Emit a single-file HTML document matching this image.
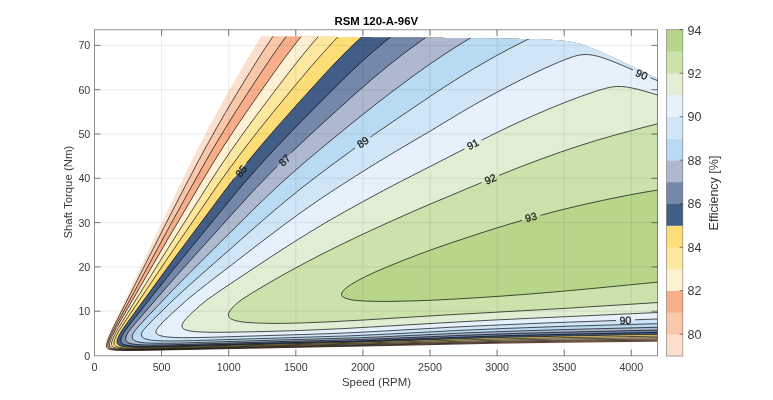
<!DOCTYPE html>
<html><head><meta charset="utf-8"><title>RSM 120-A-96V</title>
<style>
html,body{margin:0;padding:0;background:#fff;}
body{width:773px;height:400px;overflow:hidden;}
svg{display:block;font-family:"Liberation Sans",Arial,sans-serif;}
.tk{font-size:10.7px;fill:#3a3a3a;}
.cb{font-size:12.5px;fill:#3a3a3a;}
.lb{font-size:11.4px;fill:#3a3a3a;}
.cl{font-size:10.5px;fill:#1e1e1e;stroke:#1e1e1e;stroke-width:0.3px;}
.ti{font-size:11.4px;font-weight:bold;fill:#000;}
</style></head><body>
<svg width="773" height="400" viewBox="0 0 773 400">
<rect width="773" height="400" fill="#fff"/>
<defs><clipPath id="cp"><polygon points="94.5,355.8 94.5,34.8 97.5,34.8 100.5,34.9 103.5,34.9 106.5,34.9 109.5,34.9 112.5,35.0 115.5,35.0 118.5,35.0 121.5,35.0 124.5,35.1 127.5,35.1 130.5,35.1 133.5,35.1 136.5,35.2 139.5,35.2 142.5,35.2 145.5,35.2 148.5,35.2 151.5,35.3 154.5,35.3 157.5,35.3 160.5,35.3 163.5,35.4 166.5,35.4 169.5,35.4 172.5,35.4 175.5,35.5 178.5,35.5 181.5,35.5 184.5,35.5 187.5,35.6 190.5,35.6 193.5,35.6 196.5,35.6 199.5,35.7 202.5,35.7 205.5,35.7 208.5,35.7 211.5,35.8 214.5,35.8 217.5,35.8 220.5,35.9 223.5,35.9 226.5,35.9 229.5,35.9 232.5,36.0 235.5,36.0 238.5,36.0 241.5,36.0 244.5,36.1 247.5,36.1 250.5,36.1 253.5,36.1 256.5,36.2 259.5,36.2 262.5,36.2 265.5,36.2 268.5,36.3 271.5,36.3 274.5,36.3 277.5,36.3 280.5,36.4 283.5,36.4 286.5,36.4 289.5,36.4 292.5,36.5 295.5,36.5 298.5,36.5 301.5,36.5 304.5,36.6 307.5,36.6 310.5,36.6 313.5,36.6 316.5,36.7 319.5,36.7 322.5,36.7 325.5,36.7 328.5,36.8 331.5,36.8 334.5,36.8 337.5,36.9 340.5,36.9 343.5,36.9 346.5,36.9 349.5,37.0 352.5,37.0 355.5,37.0 358.5,37.0 361.5,37.1 364.5,37.1 367.5,37.1 370.5,37.1 373.5,37.2 376.5,37.2 379.5,37.2 382.5,37.3 385.5,37.3 388.5,37.3 391.5,37.3 394.5,37.4 397.5,37.4 400.5,37.4 403.5,37.5 406.5,37.5 409.5,37.5 412.5,37.5 415.5,37.6 418.5,37.6 421.5,37.6 424.5,37.7 427.5,37.7 430.5,37.7 433.5,37.7 436.5,37.8 439.5,37.8 442.5,37.8 445.5,37.9 448.5,37.9 451.5,37.9 454.5,38.0 457.5,38.0 460.5,38.0 463.5,38.1 466.5,38.1 469.5,38.1 472.5,38.2 475.5,38.2 478.5,38.2 481.5,38.3 484.5,38.3 487.5,38.4 490.5,38.4 493.5,38.4 496.5,38.5 499.5,38.5 502.5,38.6 505.5,38.6 508.5,38.7 511.5,38.7 514.5,38.8 517.5,38.8 520.5,38.9 523.5,38.9 526.5,39.0 529.5,39.1 532.5,39.2 535.5,39.3 538.5,39.3 541.5,39.4 544.5,39.6 547.5,39.7 550.5,39.8 553.5,40.0 556.5,40.2 559.5,40.5 562.5,40.7 565.5,41.1 568.5,41.5 571.5,42.0 574.5,42.6 577.5,43.3 580.5,44.2 583.5,45.1 586.5,46.2 589.5,47.3 592.5,48.5 595.5,49.7 598.5,51.0 601.5,52.3 604.5,53.6 607.5,55.0 610.5,56.4 613.5,57.8 616.5,59.1 619.5,60.6 622.5,62.0 625.5,63.4 628.5,64.8 631.5,66.2 634.5,67.7 637.5,69.1 640.5,70.5 643.5,72.0 646.5,73.4 649.5,74.9 652.5,76.3 655.5,77.8 657.5,78.7 657.5,355.8"/></clipPath></defs>
<g clip-path="url(#cp)">
<path d="M265.3,30.0 660.0,30.0 660.0,342.0 571.5,342.9 503.0,343.8 394.0,346.0 138.5,350.8 123.5,350.8 114.5,350.6 112.0,350.4 109.1,350.0 107.5,349.5 106.6,349.0 105.7,348.0 105.4,347.0 105.3,345.5 105.6,344.0 106.3,341.5 107.5,338.1 109.5,333.1 111.5,328.6 163.0,220.0 177.0,190.9 192.0,160.4 200.5,143.6 209.0,127.3 218.0,110.6 227.0,94.3 238.5,74.2 249.0,56.2 257.5,42.3 265.3,30.0Z" fill="#fcdfcd" fill-rule="evenodd"/>
<path d="M277.4,30.0 660.0,30.0 660.0,341.1 561.0,342.2 500.5,343.1 388.7,345.5 139.5,350.4 125.0,350.5 116.0,350.2 113.1,350.0 110.5,349.6 108.6,349.0 107.8,348.5 106.9,347.5 106.5,346.5 106.5,345.0 106.9,343.0 107.7,340.5 109.0,337.0 111.0,332.4 113.0,328.2 166.0,223.4 182.0,192.3 198.5,160.8 207.5,144.2 216.5,128.1 225.5,112.5 235.5,95.7 249.5,72.8 260.0,56.0 268.5,43.0 277.4,30.0Z" fill="#f9c8ab" fill-rule="evenodd"/>
<path d="M290.6,30.5 291.0,30.0 660.0,30.0 660.0,340.1 562.0,341.2 502.5,342.2 381.2,345.0 265.5,347.3 166.5,349.5 141.0,350.0 125.5,350.0 117.0,349.7 114.4,349.5 111.6,349.0 110.1,348.5 109.0,347.8 108.3,347.0 107.9,346.0 107.9,344.5 108.3,342.5 109.1,340.0 110.5,336.5 112.5,332.2 114.5,328.2 169.0,227.4 189.0,191.1 206.0,160.8 215.0,145.3 224.5,129.6 234.5,113.5 245.0,97.1 261.0,72.7 271.0,57.8 281.0,43.6 290.6,30.5Z" fill="#f7ae89" fill-rule="evenodd"/>
<path d="M306.0,30.5 306.4,30.0 660.0,30.0 660.0,338.9 560.0,340.2 503.5,341.2 371.2,344.5 262.0,346.8 167.4,349.0 144.0,349.4 128.0,349.5 119.0,349.2 116.5,349.0 113.6,348.5 112.0,348.0 111.1,347.5 110.5,347.0 109.8,346.0 109.5,345.0 109.6,343.5 110.1,341.5 111.0,338.9 112.5,335.4 116.5,327.7 169.5,236.3 199.0,186.3 213.0,163.1 223.0,147.2 233.5,131.1 244.5,114.8 256.5,97.5 274.0,72.6 285.0,57.5 295.5,43.6 306.0,30.5Z" fill="#fdf0d3" fill-rule="evenodd"/>
<path d="M323.7,30.5 324.1,30.0 656.0,30.0 660.0,32.2 660.0,337.6 554.5,339.1 503.5,340.1 372.5,343.7 256.5,346.2 166.5,348.5 148.5,348.8 132.0,348.9 122.0,348.7 119.0,348.4 116.4,348.0 114.5,347.5 113.4,347.0 112.7,346.5 111.9,345.5 111.6,344.5 111.6,343.0 112.0,341.0 113.0,338.3 114.5,335.0 116.0,332.0 118.5,327.7 168.5,247.5 209.0,183.7 220.0,166.8 232.5,148.5 246.0,129.5 259.0,111.9 278.0,86.7 292.0,68.5 303.5,54.0 313.0,42.6 323.7,30.5Z" fill="#fde89f" fill-rule="evenodd"/>
<path d="M344.3,30.5 344.8,30.0 646.7,30.0 660.0,37.5 660.0,336.1 556.0,337.8 506.5,338.8 471.0,339.7 364.5,343.0 263.0,345.3 154.0,348.1 136.5,348.2 125.5,348.0 121.0,347.6 118.5,347.1 116.5,346.5 115.6,346.0 115.0,345.5 114.2,344.5 114.0,343.0 114.1,341.5 114.7,339.5 115.7,337.0 117.1,334.0 119.0,330.7 121.5,326.8 168.5,256.9 216.5,186.8 228.0,170.6 242.5,151.1 257.0,132.4 273.0,112.4 294.5,86.3 310.0,67.8 322.0,54.0 333.0,42.0 344.3,30.5Z" fill="#fcdd78" fill-rule="evenodd"/>
<path d="M368.8,30.5 369.4,30.0 636.7,30.0 648.5,36.7 660.0,43.1 660.0,334.3 554.5,336.3 508.5,337.3 472.0,338.3 363.5,342.0 266.0,344.3 158.0,347.2 139.5,347.4 133.0,347.3 128.0,347.0 123.5,346.6 121.0,346.0 119.5,345.5 118.0,344.5 117.3,343.5 117.0,342.0 117.1,340.5 117.7,338.5 118.5,336.5 120.0,333.5 122.0,330.3 124.5,326.6 171.5,262.1 224.5,191.0 231.5,181.8 237.5,174.2 254.5,153.3 272.0,132.7 293.0,109.0 320.0,79.2 334.0,64.1 346.0,51.8 357.0,41.2 368.8,30.5Z" fill="#425d86" fill-rule="evenodd"/>
<path d="M398.8,30.5 399.5,30.0 625.8,30.0 644.0,40.4 660.0,49.1 660.0,332.3 559.0,334.4 508.0,335.6 469.5,336.9 364.0,340.8 264.5,343.3 165.0,346.1 145.5,346.4 138.5,346.3 133.0,346.0 128.5,345.6 125.5,345.0 123.9,344.5 122.1,343.5 121.3,342.5 120.8,341.0 121.0,339.0 121.6,337.0 122.7,334.5 124.2,332.0 126.0,329.4 129.0,325.4 168.5,275.5 179.0,262.5 234.0,195.1 243.0,184.4 253.0,172.9 271.0,153.0 290.0,132.9 315.0,107.4 345.5,77.0 359.0,64.2 371.4,53.0 384.5,41.9 398.8,30.5Z" fill="#7488ab" fill-rule="evenodd"/>
<path d="M435.9,30.5 436.7,30.0 613.6,30.0 639.5,44.7 650.5,50.7 660.0,55.7 660.0,330.0 574.5,331.9 516.0,333.4 465.0,335.2 386.2,338.5 361.5,339.4 270.0,341.8 169.5,344.8 149.5,345.0 143.0,344.9 137.5,344.6 133.5,344.1 130.4,343.5 128.0,342.5 126.7,341.5 126.3,341.0 125.9,340.0 125.7,338.5 126.1,336.5 127.0,334.5 128.4,332.0 130.2,329.5 137.5,320.7 163.5,290.7 178.5,273.6 237.0,208.6 254.5,189.6 274.0,169.5 282.5,161.0 292.0,151.9 314.5,130.8 347.0,101.2 359.0,90.5 369.0,81.8 385.5,68.0 402.6,54.5 419.5,41.9 427.5,36.3 435.9,30.5Z" fill="#aeb8ce" fill-rule="evenodd"/>
<path d="M483.4,30.5 484.2,30.0 598.6,30.0 636.5,50.8 648.5,57.2 660.0,63.0 660.0,327.2 578.5,329.2 520.0,330.9 467.0,332.8 377.8,337.0 360.5,337.7 267.5,340.3 180.5,343.0 159.5,343.3 152.0,343.2 146.0,342.9 141.5,342.5 137.5,341.7 135.0,340.8 134.0,340.2 133.2,339.5 132.8,339.0 132.4,338.0 132.2,337.0 132.3,336.0 132.6,335.0 133.2,333.5 134.1,332.0 135.1,330.5 138.0,327.0 142.0,322.6 163.5,299.7 177.0,285.7 188.5,274.0 251.5,211.3 262.0,201.1 272.5,191.1 283.0,181.4 291.0,174.2 302.5,164.2 316.0,152.8 331.5,139.9 348.0,126.4 363.0,114.4 376.5,103.7 389.0,94.1 402.0,84.3 413.0,76.1 423.5,68.6 433.5,61.6 443.0,55.2 453.0,48.7 463.0,42.5 473.0,36.5 483.4,30.5Z" fill="#b9daf3" fill-rule="evenodd"/>
<path d="M548.6,30.5 550.1,30.0 572.0,30.0 575.5,31.1 579.5,32.4 588.2,36.0 599.0,41.0 610.0,46.5 641.0,62.3 660.0,71.5 660.0,323.6 568.5,326.2 506.5,328.4 461.5,330.3 380.2,334.5 348.0,335.9 192.0,340.7 179.0,340.9 169.1,341.0 161.0,340.8 154.8,340.5 150.0,339.9 146.0,339.0 143.6,338.0 142.8,337.5 142.0,336.6 141.7,336.0 141.4,335.0 141.5,334.0 141.9,332.5 143.5,330.0 146.5,326.5 153.5,319.3 173.2,300.0 185.0,289.1 198.5,277.0 223.5,255.0 253.0,228.9 273.0,211.5 285.5,201.0 296.5,192.0 308.0,183.0 320.5,173.5 335.0,162.7 351.0,151.0 364.5,141.3 379.0,131.2 398.0,118.1 430.5,96.1 443.5,87.5 456.0,79.5 469.0,71.5 481.8,64.0 495.0,56.5 507.5,49.7 519.5,43.5 531.0,37.9 541.0,33.4 548.6,30.5Z" fill="#d0e5f6" fill-rule="evenodd"/>
<path d="M584.6,54.5 587.0,54.5 589.5,54.7 594.5,55.5 600.0,56.9 606.5,59.0 613.0,61.5 620.3,64.5 648.0,76.7 660.0,81.8 660.0,318.9 553.5,322.7 494.5,325.1 453.0,327.2 375.1,331.5 340.5,333.2 310.5,334.3 221.7,337.0 191.0,337.7 181.0,337.6 173.0,337.4 166.5,336.9 163.9,336.5 161.4,336.0 158.5,335.0 157.5,334.5 156.4,333.5 156.1,333.0 155.9,332.0 156.0,331.0 156.4,330.0 158.4,327.0 161.9,323.0 169.2,316.0 186.8,300.0 195.0,293.3 208.5,282.6 259.0,243.7 284.5,224.4 298.0,214.6 310.5,205.7 323.5,196.9 337.5,187.6 365.0,170.1 390.5,154.4 428.0,132.4 452.5,117.5 465.0,110.1 479.5,101.8 494.5,93.5 511.0,84.8 525.5,77.5 541.0,70.0 555.0,63.7 565.0,59.6 573.0,56.7 576.0,55.9 579.0,55.2 582.0,54.7 584.6,54.5Z" fill="#e6f1fb" fill-rule="evenodd"/>
<path d="M615.8,86.5 619.5,86.4 623.0,86.6 627.0,87.1 632.0,88.0 636.5,89.0 642.5,90.6 660.0,95.7 660.0,312.4 532.5,318.2 491.0,320.2 445.0,322.7 344.0,328.6 319.0,329.8 292.0,330.7 265.1,331.5 238.0,332.1 217.5,332.3 204.5,332.2 195.0,331.6 191.5,331.2 188.5,330.7 186.0,330.0 184.7,329.5 183.2,328.5 182.4,327.5 182.0,326.5 182.0,325.5 182.7,323.5 184.1,321.0 187.1,317.5 191.7,313.0 199.0,306.5 206.8,300.0 211.0,297.0 225.5,287.0 252.5,269.0 274.5,254.5 291.5,243.5 306.0,234.4 320.0,226.0 334.5,217.5 349.5,209.0 380.5,192.1 407.5,178.0 485.0,138.4 502.0,130.1 519.0,122.0 533.5,115.5 548.0,109.3 564.5,102.6 578.0,97.4 592.0,92.5 602.5,89.1 609.5,87.4 612.5,86.9 615.8,86.5Z" fill="#e1eed3" fill-rule="evenodd"/>
<path d="M658.9,123.5 660.0,123.3 660.0,302.4 562.9,308.5 442.0,315.2 363.8,320.0 330.0,321.8 305.5,322.8 287.5,323.3 272.0,323.4 258.5,323.1 248.1,322.5 243.2,322.0 239.7,321.5 237.2,321.0 234.5,320.3 232.3,319.5 230.5,318.5 229.4,317.5 228.8,316.5 228.5,315.5 228.5,314.0 229.0,312.5 229.8,311.0 230.9,309.5 232.6,307.5 234.6,305.5 237.3,303.0 241.1,300.0 246.4,296.5 255.2,291.0 266.2,284.5 281.0,276.0 295.5,268.0 310.5,260.0 326.0,252.0 341.0,244.6 356.9,237.0 375.0,228.6 395.0,219.5 414.0,211.1 431.0,203.7 485.0,181.1 502.5,174.0 517.5,168.0 533.0,162.1 547.0,156.9 560.5,152.1 572.5,148.0 586.0,143.6 599.5,139.5 612.5,135.7 626.0,132.0 651.5,125.3 658.9,123.5Z" fill="#cbe2ab" fill-rule="evenodd"/>
<path d="M658.2,190.0 660.0,189.7 660.0,281.9 587.2,289.0 553.9,292.0 529.9,294.0 503.2,296.0 472.7,298.0 446.3,299.5 425.0,300.5 405.0,301.2 388.0,301.5 374.0,301.4 362.0,300.9 352.7,300.0 347.5,298.9 345.0,298.0 343.2,297.0 342.1,296.0 341.6,295.0 341.5,294.5 341.6,293.5 342.0,292.5 342.6,291.5 343.4,290.5 344.9,289.0 348.1,286.5 352.6,283.5 357.8,280.5 363.6,277.5 370.9,274.0 379.8,270.0 390.5,265.5 402.9,260.5 415.9,255.5 436.3,248.0 464.2,238.5 493.5,229.0 514.8,222.5 536.0,216.5 560.8,210.0 586.5,203.9 613.9,198.0 636.5,193.6 658.2,190.0Z" fill="#b7d689" fill-rule="evenodd"/>
<path d="M660.0,341.1 561.0,342.2 500.5,343.1 388.7,345.5 139.5,350.4 125.0,350.5 116.0,350.2 113.1,350.0 110.5,349.6 108.6,349.0 107.8,348.5 106.9,347.5 106.5,346.5 106.5,345.0 106.9,343.0 107.7,340.5 109.0,337.0 111.0,332.4 113.0,328.2 166.0,223.4 182.0,192.3 198.5,160.8 207.5,144.2 216.5,128.1 225.5,112.5 235.5,95.7 249.5,72.8 260.0,56.0 268.5,43.0 277.4,30.0" fill="none" stroke="#000" stroke-opacity="0.8" stroke-width="0.85" stroke-linejoin="round"/>
<path d="M660.0,340.1 562.0,341.2 502.5,342.2 381.2,345.0 265.5,347.3 166.5,349.5 141.0,350.0 125.5,350.0 117.0,349.7 114.4,349.5 111.6,349.0 110.1,348.5 109.0,347.8 108.3,347.0 107.9,346.0 107.9,344.5 108.3,342.5 109.1,340.0 110.5,336.5 112.5,332.2 114.5,328.2 169.0,227.4 189.0,191.1 206.0,160.8 215.0,145.3 224.5,129.6 234.5,113.5 245.0,97.1 261.5,72.0 271.5,57.1 281.0,43.6 291.0,30.0" fill="none" stroke="#000" stroke-opacity="0.8" stroke-width="0.85" stroke-linejoin="round"/>
<path d="M660.0,338.9 560.0,340.2 503.5,341.2 371.2,344.5 262.0,346.8 167.4,349.0 144.0,349.4 128.0,349.5 119.0,349.2 116.5,349.0 113.6,348.5 112.0,348.0 111.1,347.5 110.5,347.0 109.8,346.0 109.5,345.0 109.6,343.5 110.1,341.5 111.0,338.9 112.5,335.4 116.5,327.7 169.5,236.3 199.0,186.3 213.0,163.1 223.0,147.2 234.0,130.3 245.0,114.0 257.0,96.7 274.0,72.6 285.0,57.5 296.0,43.0 306.4,30.0" fill="none" stroke="#000" stroke-opacity="0.8" stroke-width="0.85" stroke-linejoin="round"/>
<path d="M656.0,30.0 660.0,32.2M660.0,337.6 554.5,339.1 503.5,340.1 372.5,343.7 256.5,346.2 166.5,348.5 148.5,348.8 132.0,348.9 122.0,348.7 119.0,348.4 116.4,348.0 114.5,347.5 113.4,347.0 112.7,346.5 111.9,345.5 111.6,344.5 111.6,343.0 112.0,341.0 113.0,338.3 114.5,335.0 116.0,332.0 118.5,327.7 168.5,247.5 209.0,183.7 220.0,166.8 232.5,148.5 246.0,129.5 259.5,111.2 279.0,85.4 293.0,67.2 304.0,53.4 313.5,42.0 324.1,30.0" fill="none" stroke="#000" stroke-opacity="0.8" stroke-width="0.85" stroke-linejoin="round"/>
<path d="M646.7,30.0 660.0,37.5M660.0,336.1 556.0,337.8 506.5,338.8 471.0,339.7 364.5,343.0 263.0,345.3 154.0,348.1 136.5,348.2 125.5,348.0 121.0,347.6 118.5,347.1 116.5,346.5 115.6,346.0 115.0,345.5 114.2,344.5 114.0,343.0 114.1,341.5 114.7,339.5 115.7,337.0 117.1,334.0 119.0,330.7 121.5,326.8 168.5,256.9 216.5,186.8 228.0,170.6 242.5,151.1 257.5,131.7 273.5,111.8 295.5,85.1 311.0,66.6 322.5,53.5 333.5,41.5 344.8,30.0" fill="none" stroke="#000" stroke-opacity="0.8" stroke-width="0.85" stroke-linejoin="round"/>
<path d="M636.7,30.0 648.5,36.7 660.0,43.1M660.0,334.3 554.5,336.3 508.5,337.3 472.0,338.3 363.5,342.0 266.0,344.3 159.5,347.2 141.0,347.4 129.5,347.1 126.0,346.9 123.0,346.5 120.5,345.9 118.6,345.0 117.6,344.0 117.3,343.5 117.0,342.5 117.0,341.0 117.5,339.0 118.5,336.5 120.0,333.6 121.5,331.0 124.0,327.3 130.0,319.0 170.5,263.5 223.5,192.3 234.5,177.9M246.5,163.0 262.0,144.4 278.5,125.3 299.5,101.7 325.0,73.7 337.0,61.0 348.0,49.8 358.3,40.0 369.4,30.0" fill="none" stroke="#000" stroke-opacity="0.8" stroke-width="0.85" stroke-linejoin="round"/>
<path d="M625.8,30.0 644.0,40.4 660.0,49.1M660.0,332.3 559.0,334.4 508.0,335.6 469.5,336.9 364.0,340.8 264.5,343.3 163.5,346.1 144.5,346.3 138.0,346.2 132.5,346.0 128.0,345.5 125.4,345.0 123.9,344.5 123.0,344.1 122.1,343.5 121.6,343.0 121.3,342.5 120.9,341.5 120.8,340.0 121.2,338.0 122.0,336.0 123.3,333.5 124.9,331.0 130.0,324.1 169.0,274.9 180.0,261.3 234.5,194.5 244.0,183.2 255.0,170.7 272.5,151.4 291.5,131.4 317.0,105.4 346.5,76.0 359.5,63.7 372.0,52.5 385.0,41.5 399.5,30.0" fill="none" stroke="#000" stroke-opacity="0.8" stroke-width="0.85" stroke-linejoin="round"/>
<path d="M613.6,30.0 639.5,44.7 650.5,50.7 660.0,55.7M660.0,330.0 574.5,331.9 516.0,333.4 465.0,335.2 386.2,338.5 361.5,339.4 269.5,341.9 171.0,344.8 151.5,345.0 144.5,344.9 139.0,344.7 135.0,344.3 131.5,343.8 128.9,343.0 127.2,342.0 126.5,341.3 126.0,340.5 125.7,339.0 126.0,337.0 126.7,335.0 128.1,332.5 129.9,330.0 136.5,321.9 161.5,293.0 178.5,273.6 238.0,207.5 247.5,197.1 256.5,187.5 267.5,176.1 277.0,166.5M290.8,153.0 311.0,134.0 335.5,111.6 358.5,90.9 374.5,77.1 390.0,64.3 406.0,51.9 421.5,40.5 436.7,30.0" fill="none" stroke="#000" stroke-opacity="0.8" stroke-width="0.85" stroke-linejoin="round"/>
<path d="M598.6,30.0 636.5,50.8 648.5,57.2 660.0,63.0M660.0,327.2 578.5,329.2 520.0,330.9 467.0,332.8 377.8,337.0 360.5,337.7 268.0,340.3 178.5,343.1 157.5,343.3 150.0,343.1 144.5,342.8 140.0,342.3 136.7,341.5 134.4,340.5 133.5,339.8 132.8,339.0 132.4,338.0 132.2,337.0 132.3,336.0 132.6,335.0 133.8,332.5 135.9,329.5 139.0,325.9 143.5,320.9 168.5,294.5 190.0,272.5 253.0,209.9 263.5,199.7 274.0,189.7 284.0,180.5 292.0,173.3 304.0,162.9 317.5,151.5 333.0,138.7 349.5,125.2 364.0,113.6 377.5,102.9 390.0,93.3 403.0,83.5 414.0,75.4 424.5,67.9 434.5,60.9 444.0,54.6 454.0,48.1 464.0,41.9 474.0,35.9 484.2,30.0" fill="none" stroke="#000" stroke-opacity="0.8" stroke-width="0.85" stroke-linejoin="round"/>
<path d="M572.0,30.0 576.8,31.5 582.0,33.4 588.0,35.9 595.0,39.1 608.0,45.4 642.0,62.8 660.0,71.5M660.0,323.6 568.5,326.2 506.5,328.4 461.5,330.3 380.2,334.5 348.0,335.9 193.5,340.6 180.0,340.9 170.0,341.0 162.0,340.9 155.5,340.6 150.3,340.0 147.0,339.3 144.5,338.5 143.5,338.0 142.3,337.0 141.7,336.0 141.4,335.0 141.5,334.0 141.9,332.5 142.8,331.0 143.9,329.5 147.4,325.5 154.0,318.8 173.2,300.0 185.0,289.1 197.0,278.3 261.5,221.5 275.0,209.8 288.0,199.0 301.5,188.1 316.5,176.5 334.5,163.0 355.1,148.0M370.6,137.0 396.0,119.5 436.5,92.1 454.5,80.5 472.5,69.4 484.0,62.7 495.5,56.2 507.0,50.0 517.5,44.5 527.7,39.5 537.0,35.2 544.5,32.0 550.1,30.0" fill="none" stroke="#000" stroke-opacity="0.8" stroke-width="0.85" stroke-linejoin="round"/>
<path d="M660.0,318.9 635.0,319.8M616.0,320.5 549.5,322.8 489.5,325.4 449.5,327.3 375.1,331.5 341.0,333.2 303.1,334.5 209.5,337.3 195.0,337.6 183.5,337.7 175.0,337.5 167.7,337.0 164.5,336.6 162.0,336.1 159.7,335.5 158.5,335.0 157.5,334.5 156.4,333.5 156.1,333.0 155.9,332.0 156.2,330.5 156.7,329.5 157.7,328.0 159.7,325.5 162.9,322.0 170.8,314.5 186.8,300.0 189.5,297.8 198.0,290.9 207.5,283.4 266.0,238.4 286.0,223.3 303.5,210.7 319.0,199.9 335.5,188.9 355.5,176.1 375.5,163.6 396.5,150.9 429.0,131.8 461.0,112.5 474.5,104.6 488.0,97.1 504.0,88.5 517.5,81.5 531.0,74.8 544.5,68.4 556.5,63.1 566.0,59.2 573.5,56.6 576.5,55.7 579.5,55.1 584.0,54.5 588.5,54.6 593.5,55.3 599.0,56.6 605.0,58.5 612.0,61.1 621.4,65.0 633.0,70.0M650.5,77.7 660.0,81.8" fill="none" stroke="#000" stroke-opacity="0.8" stroke-width="0.85" stroke-linejoin="round"/>
<path d="M660.0,312.4 532.5,318.2 490.5,320.2 445.0,322.7 345.1,328.5 321.5,329.6 294.5,330.7 265.1,331.5 240.5,332.0 219.0,332.3 205.5,332.2 196.0,331.7 192.5,331.4 189.5,330.9 187.0,330.3 184.7,329.5 183.2,328.5 182.5,327.7 182.2,327.0 182.0,326.0 182.1,325.0 182.4,324.0 183.8,321.5 186.2,318.5 189.6,315.0 193.9,311.0 200.2,305.5 206.8,300.0 219.5,291.1 237.5,279.0 270.5,257.1 292.5,242.9 310.0,232.0 327.0,221.8 344.5,211.8 365.0,200.5 383.5,190.5 400.5,181.6 464.5,148.9M481.5,140.2 499.0,131.5 516.0,123.4 532.5,116.0 548.5,109.1 566.0,102.0 580.5,96.5 596.0,91.2 602.0,89.3 606.5,88.1 611.6,87.0 616.5,86.5 621.5,86.5 626.5,87.0 632.1,88.0 639.0,89.6 647.5,92.0 660.0,95.7" fill="none" stroke="#000" stroke-opacity="0.8" stroke-width="0.85" stroke-linejoin="round"/>
<path d="M660.0,302.4 562.9,308.5 442.0,315.2 363.8,320.0 330.0,321.8 305.5,322.8 287.5,323.3 272.0,323.4 258.5,323.1 248.1,322.5 243.2,322.0 239.7,321.5 237.2,321.0 234.5,320.3 232.3,319.5 230.5,318.5 229.4,317.5 228.8,316.5 228.4,315.0 228.6,313.5 229.2,312.0 230.5,310.0 232.1,308.0 234.6,305.5 237.3,303.0 241.1,300.0 252.8,292.5 268.8,283.0 287.3,272.5 305.8,262.5 323.1,253.5 341.5,244.4 360.0,235.5 383.0,224.9 406.0,214.6 428.0,205.0 481.7,182.5M499.0,175.4 520.5,166.8 541.5,158.9 560.5,152.1 578.0,146.2 596.5,140.4 615.5,134.9 639.0,128.6 654.0,124.7 660.0,123.3" fill="none" stroke="#000" stroke-opacity="0.8" stroke-width="0.85" stroke-linejoin="round"/>
<path d="M660.0,281.9 587.2,289.0 553.9,292.0 529.9,294.0 503.2,296.0 480.8,297.5 455.5,299.0 430.0,300.3 409.5,301.0 391.0,301.4 376.5,301.4 364.5,301.0 358.5,300.6 354.0,300.2 351.5,299.8 348.5,299.1 346.3,298.5 343.9,297.5 342.5,296.5 341.8,295.5 341.5,294.5 341.8,293.0 342.3,292.0 343.4,290.5 344.9,289.0 346.7,287.5 351.8,284.0 358.8,280.0 366.6,276.0 376.4,271.5 388.1,266.5 401.7,261.0 417.2,255.0 430.7,250.0 444.9,245.0 465.7,238.0 488.8,230.5 504.8,225.5 522.0,220.4M540.5,215.3 556.9,211.0 571.0,207.5 587.5,203.7 604.0,200.1 619.0,197.0 633.0,194.3 647.0,191.8 660.0,189.7" fill="none" stroke="#000" stroke-opacity="0.8" stroke-width="0.85" stroke-linejoin="round"/>
</g>
<path d="M161.6,29.8V355.8M228.7,29.8V355.8M295.8,29.8V355.8M362.9,29.8V355.8M430.0,29.8V355.8M497.1,29.8V355.8M564.2,29.8V355.8M631.3,29.8V355.8M94.5,311.2H657.5M94.5,266.9H657.5M94.5,222.6H657.5M94.5,178.3H657.5M94.5,134.0H657.5M94.5,89.7H657.5M94.5,45.4H657.5" stroke="#262626" stroke-opacity="0.11" stroke-width="0.8" fill="none"/>
<path d="M161.6,355.8v-6.1M161.6,29.8v6.1M228.7,355.8v-6.1M228.7,29.8v6.1M295.8,355.8v-6.1M295.8,29.8v6.1M362.9,355.8v-6.1M362.9,29.8v6.1M430.0,355.8v-6.1M430.0,29.8v6.1M497.1,355.8v-6.1M497.1,29.8v6.1M564.2,355.8v-6.1M564.2,29.8v6.1M631.3,355.8v-6.1M631.3,29.8v6.1M94.5,311.2h6.1M657.5,311.2h-6.1M94.5,266.9h6.1M657.5,266.9h-6.1M94.5,222.6h6.1M657.5,222.6h-6.1M94.5,178.3h6.1M657.5,178.3h-6.1M94.5,134.0h6.1M657.5,134.0h-6.1M94.5,89.7h6.1M657.5,89.7h-6.1M94.5,45.4h6.1M657.5,45.4h-6.1" stroke="#262626" stroke-opacity="0.75" stroke-width="0.8" fill="none"/>
<rect x="94.5" y="29.8" width="563.0" height="326.0" fill="none" stroke="#262626" stroke-opacity="0.62" stroke-width="0.8"/>
<text x="241.2" y="171.2" transform="rotate(-51.2 241.2 171.2)" dy="3.7" text-anchor="middle" class="cl">85</text>
<text x="284.5" y="160.3" transform="rotate(-44.2 284.5 160.3)" dy="3.7" text-anchor="middle" class="cl">87</text>
<text x="362.8" y="142.2" transform="rotate(-35.4 362.8 142.2)" dy="3.7" text-anchor="middle" class="cl">89</text>
<text x="472.8" y="144.3" transform="rotate(-27.1 472.8 144.3)" dy="3.7" text-anchor="middle" class="cl">91</text>
<text x="490.4" y="179.1" transform="rotate(-22.3 490.4 179.1)" dy="3.7" text-anchor="middle" class="cl">92</text>
<text x="531.0" y="217.2" transform="rotate(-15.6 531.0 217.2)" dy="3.7" text-anchor="middle" class="cl">93</text>
<text x="641.7" y="74.4" transform="rotate(23.8 641.7 74.4)" dy="3.7" text-anchor="middle" class="cl">90</text>
<text x="625.5" y="320.4" transform="rotate(-2.0 625.5 320.4)" dy="3.7" text-anchor="middle" class="cl">90</text>
<text x="94.5" y="370.5" text-anchor="middle" class="tk">0</text>
<text x="161.6" y="370.5" text-anchor="middle" class="tk">500</text>
<text x="228.7" y="370.5" text-anchor="middle" class="tk">1000</text>
<text x="295.8" y="370.5" text-anchor="middle" class="tk">1500</text>
<text x="362.9" y="370.5" text-anchor="middle" class="tk">2000</text>
<text x="430.0" y="370.5" text-anchor="middle" class="tk">2500</text>
<text x="497.1" y="370.5" text-anchor="middle" class="tk">3000</text>
<text x="564.2" y="370.5" text-anchor="middle" class="tk">3500</text>
<text x="631.3" y="370.5" text-anchor="middle" class="tk">4000</text>
<text x="90.3" y="359.5" text-anchor="end" class="tk">0</text>
<text x="90.3" y="315.2" text-anchor="end" class="tk">10</text>
<text x="90.3" y="270.9" text-anchor="end" class="tk">20</text>
<text x="90.3" y="226.6" text-anchor="end" class="tk">30</text>
<text x="90.3" y="182.3" text-anchor="end" class="tk">40</text>
<text x="90.3" y="138.0" text-anchor="end" class="tk">50</text>
<text x="90.3" y="93.7" text-anchor="end" class="tk">60</text>
<text x="90.3" y="49.4" text-anchor="end" class="tk">70</text>
<text x="376.3" y="25.1" text-anchor="middle" class="ti">RSM 120-A-96V</text>
<text x="376.5" y="385.8" text-anchor="middle" class="lb">Speed (RPM)</text>
<text transform="translate(72.3 192.2) rotate(-90)" text-anchor="middle" class="lb">Shaft Torque (Nm)</text>
<rect x="666.6" y="334.25" width="16.2" height="22.05" fill="#fcdfcd"/>
<rect x="666.6" y="312.49" width="16.2" height="22.05" fill="#f9c8ab"/>
<rect x="666.6" y="290.74" width="16.2" height="22.05" fill="#f7ae89"/>
<rect x="666.6" y="268.99" width="16.2" height="22.05" fill="#fdf0d3"/>
<rect x="666.6" y="247.23" width="16.2" height="22.05" fill="#fde89f"/>
<rect x="666.6" y="225.48" width="16.2" height="22.05" fill="#fcdd78"/>
<rect x="666.6" y="203.73" width="16.2" height="22.05" fill="#425d86"/>
<rect x="666.6" y="181.97" width="16.2" height="22.05" fill="#7488ab"/>
<rect x="666.6" y="160.22" width="16.2" height="22.05" fill="#aeb8ce"/>
<rect x="666.6" y="138.47" width="16.2" height="22.05" fill="#b9daf3"/>
<rect x="666.6" y="116.71" width="16.2" height="22.05" fill="#d0e5f6"/>
<rect x="666.6" y="94.96" width="16.2" height="22.05" fill="#e6f1fb"/>
<rect x="666.6" y="73.21" width="16.2" height="22.05" fill="#e1eed3"/>
<rect x="666.6" y="51.45" width="16.2" height="22.05" fill="#cbe2ab"/>
<rect x="666.6" y="29.70" width="16.2" height="22.05" fill="#b7d689"/>
<text x="687.6" y="338.7" class="cb">80</text>
<text x="687.6" y="295.2" class="cb">82</text>
<text x="687.6" y="251.7" class="cb">84</text>
<text x="687.6" y="208.2" class="cb">86</text>
<text x="687.6" y="164.7" class="cb">88</text>
<text x="687.6" y="121.2" class="cb">90</text>
<text x="687.6" y="77.7" class="cb">92</text>
<text x="687.6" y="35.2" class="cb">94</text>
<path d="M682.8,334.2h-3.2M682.8,290.7h-3.2M682.8,247.2h-3.2M682.8,203.7h-3.2M682.8,160.2h-3.2M682.8,116.7h-3.2M682.8,73.2h-3.2M682.8,29.7h-3.2" stroke="#262626" stroke-opacity="0.75" stroke-width="0.8" fill="none"/>
<rect x="666.6" y="29.7" width="16.2" height="326.3" fill="none" stroke="#262626" stroke-opacity="0.45" stroke-width="0.8"/>
<text transform="translate(718 193) rotate(-90)" text-anchor="middle" class="cb">Efficiency [%]</text>
</svg></body></html>
